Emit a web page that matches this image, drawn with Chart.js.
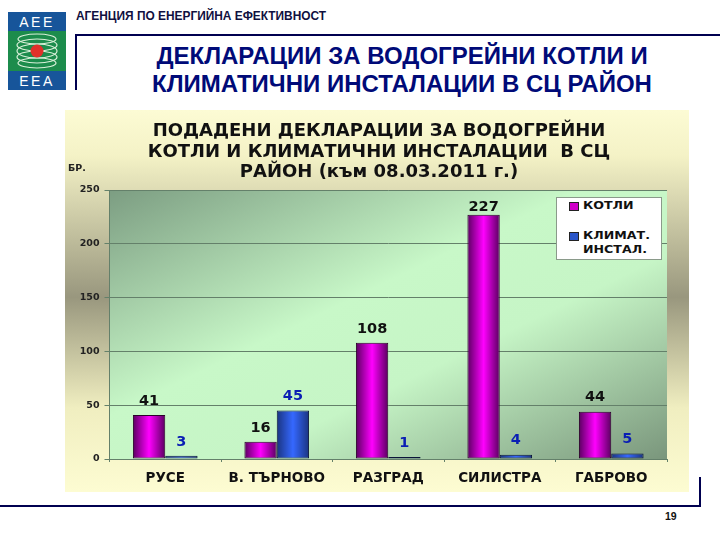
<!DOCTYPE html>
<html>
<head>
<meta charset="utf-8">
<script src="https://cdn.jsdelivr.net/npm/chart.js@4"></script>
<style>
  html, body { margin: 0; padding: 0; background: #fff; }
  body { width: 720px; height: 540px; position: relative; overflow: hidden; font-family: "Liberation Sans", Arial, sans-serif; }
  .abs { position: absolute; }
  #agency { left: 76px; top: 9px; font-size: 11.9px; font-weight: bold; color: #101040; white-space: nowrap; }
  #heading { left: 76px; width: 652px; top: 42px; text-align: center; font-size: 24px; line-height: 28px; font-weight: bold; color: #000a78; white-space: nowrap; }
  .navy { background: #000050; }
  #panel { left: 65px; top: 110px; width: 624px; height: 382px; }
  #legend { left: 556px; top: 197px; width: 104px; height: 61px; background: #fff; border: 1px solid #8a9a8a; font: bold 10px "DejaVu Sans", sans-serif; color: #111; }
  #legend div { position: absolute; white-space: nowrap; transform: scaleX(1.26); transform-origin: left; }
  #legend i { position: absolute; width: 8px; height: 7px; border: 1px solid #222; }
  #page { left: 665px; top: 510px; font-size: 10.5px; font-weight: bold; color: #111; }
</style>
</head>
<body>

<svg class="abs" style="left:8px;top:12px" width="58" height="78" viewBox="0 0 58 78">
  <rect width="58" height="78" fill="#17559a"/>
  <rect y="19" width="58" height="40" fill="#1c8c4c"/>
  <g fill="none" stroke="#d8efd8" stroke-width="1.2">
    <ellipse cx="29" cy="27" rx="19" ry="5"/>
    <ellipse cx="29" cy="33" rx="20" ry="6"/>
    <ellipse cx="29" cy="39" rx="20" ry="7"/>
    <ellipse cx="29" cy="45" rx="20" ry="6"/>
    <ellipse cx="29" cy="51" rx="19" ry="5"/>
  </g>
  <circle cx="29" cy="39" r="6.5" fill="#e0302a"/>
  <text x="29" y="15" text-anchor="middle" fill="#fff" font-family="Liberation Sans" font-size="14" letter-spacing="2.5">AEE</text>
  <text x="29" y="74" text-anchor="middle" fill="#fff" font-family="Liberation Sans" font-size="14" letter-spacing="2.5">EEA</text>
</svg>

<div class="abs" id="agency">АГЕНЦИЯ ПО ЕНЕРГИЙНА ЕФЕКТИВНОСТ</div>
<div class="abs navy" style="left:75px;top:34px;width:645px;height:2px"></div>
<div class="abs navy" style="left:75px;top:34px;width:2px;height:56px"></div>
<div class="abs" id="heading">ДЕКЛАРАЦИИ ЗА ВОДОГРЕЙНИ КОТЛИ И<br>КЛИМАТИЧНИ ИНСТАЛАЦИИ В СЦ РАЙОН</div>

<div class="abs" id="panel"><canvas id="chart"></canvas></div>

<div class="abs" id="legend">
  <i style="left:12px;top:4px;background:#d000c8"></i><div style="left:26px;top:2px">КОТЛИ</div>
  <i style="left:12px;top:34px;background:#2a55c8"></i><div style="left:26px;top:32px">КЛИМАТ.</div>
  <div style="left:26px;top:46px">ИНСТАЛ.</div>
</div>

<div class="abs navy" style="left:0;top:505px;width:701px;height:2px"></div>
<div class="abs navy" style="left:699px;top:477px;width:2px;height:30px"></div>
<div class="abs" id="page">19</div>

<script>
const categories = ['РУСЕ', 'В. ТЪРНОВО', 'РАЗГРАД', 'СИЛИСТРА', 'ГАБРОВО'];
const boilers = [41, 16, 108, 227, 44];
const climate = [3, 45, 1, 4, 5];
const titleLines = ['ПОДАДЕНИ ДЕКЛАРАЦИИ ЗА ВОДОГРЕЙНИ', 'КОТЛИ И КЛИМАТИЧНИ ИНСТАЛАЦИИ  В СЦ', 'РАЙОН (към 08.03.2011 г.)'];

const CAT_PCT = 0.58;

// cylinder look: dark at the edges, bright in the middle of each bar
function barGradient(ctx, side, edge, mid) {
    const chart = ctx.chart;
    const x = chart.scales.x;
    if (!x || !x.width) return edge; // scale not laid out yet
    const w = (x.width / categories.length) * CAT_PCT / 2;
    const c = x.getPixelForValue(ctx.dataIndex);
    if (!Number.isFinite(c)) return edge;
    const left = side < 0 ? c - w : c;
    const g = chart.ctx.createLinearGradient(left, 0, left + w, 0);
    g.addColorStop(0, edge);
    g.addColorStop(0.5, mid);
    g.addColorStop(1, edge);
    return g;
}

// panel and plot backgrounds
const backdrop = {
    id: 'backdrop',
    // title is centred on the whole panel, not on the padded box
    afterLayout(chart) {
        chart.titleBlock.left += 26;
    },
    beforeDraw(chart) {
        const { ctx, width, height, chartArea: a } = chart;
        let g = ctx.createLinearGradient(0, 0, 0, height);
        g.addColorStop(0, '#fcfbd4');
        g.addColorStop(0.12, '#f4f2c6');
        g.addColorStop(0.49, '#99977e');
        g.addColorStop(0.78, '#f0eec0');
        g.addColorStop(1, '#fdfcd2');
        ctx.fillStyle = g;
        ctx.fillRect(0, 0, width, height);

        // light band runs from the bottom left corner to the top right one
        const W = a.right - a.left, H = a.bottom - a.top;
        const s = W * H / (W * W + H * H);
        const cx = a.left + W / 2, cy = a.top + H / 2;
        g = ctx.createLinearGradient(cx - H * s, cy - W * s, cx + H * s, cy + W * s);
        g.addColorStop(0, '#7c9d82');
        g.addColorStop(0.42, '#c8f8c8');
        g.addColorStop(0.62, '#c6f5c6');
        g.addColorStop(1, '#7a967c');
        ctx.fillStyle = g;
        ctx.fillRect(a.left, a.top, W, H);
    }
};

// value labels over the bars, and the "БР." unit
const valueLabels = {
    id: 'valueLabels',
    afterDatasetsDraw(chart) {
        const ctx = chart.ctx;
        ctx.save();
        ctx.textAlign = 'center';
        ctx.textBaseline = 'middle';
        ctx.font = 'bold 14.5px "DejaVu Sans"';
        chart.data.datasets.forEach((ds, i) => {
            ctx.fillStyle = i === 0 ? '#111' : '#0a1eb4';
            chart.getDatasetMeta(i).data.forEach((bar, j) => {
                // the tallest one sits closer to its bar in the original
                const lift = ds.data[j] > 200 ? 8 : 14;
                ctx.fillText(ds.data[j], bar.x, bar.y - lift);
            });
        });
        ctx.font = 'bold 9.5px "DejaVu Sans"';
        ctx.fillStyle = '#222';
        ctx.textAlign = 'left';
        ctx.fillText('БР.', 3, 59);
        ctx.restore();
    }
};

new Chart(document.getElementById('chart'), {
    type: 'bar',
    data: {
        labels: categories,
        datasets: [
            {
                label: 'КОТЛИ',
                data: boilers,
                backgroundColor: ctx => barGradient(ctx, -1, '#5a0060', '#ff00ff'),
                borderColor: '#2a002a',
                borderWidth: 1,
                borderSkipped: false
            },
            {
                label: 'КЛИМАТ. ИНСТАЛ.',
                data: climate,
                backgroundColor: ctx => barGradient(ctx, 1, '#1a3480', '#3568ff'),
                borderColor: '#0a1438',
                borderWidth: 1,
                borderSkipped: false,
                minBarLength: 2 // so the bar for 1 still shows as a dark line
            }
        ]
    },
    options: {
        responsive: true,
        maintainAspectRatio: false,
        animation: false,
        layout: { padding: { right: 22 } },
        datasets: { bar: { categoryPercentage: CAT_PCT, barPercentage: 1 } },
        plugins: {
            legend: { display: false },
            tooltip: { enabled: false },
            title: {
                display: true,
                text: titleLines,
                color: '#111',
                font: { family: '"DejaVu Sans"', weight: 'bold', size: 18, lineHeight: 1.15 },
                padding: { top: 11, bottom: 6.9 }
            }
        },
        scales: {
            x: {
                afterFit(scale) { scale.height = 33; },
                border: { color: '#64806a' },
                grid: { drawOnChartArea: false, color: '#64806a', tickLength: 3 },
                ticks: { color: '#111', padding: 8, maxRotation: 0, font: { family: '"DejaVu Sans"', weight: 'bold', size: 13.5 } }
            },
            y: {
                min: 0,
                max: 250,
                afterFit(scale) { scale.width = 44.5; },
                border: { color: '#64806a' },
                grid: { color: '#64806a', tickLength: 5 },
                ticks: { stepSize: 50, color: '#222', padding: 5, font: { family: '"DejaVu Sans"', weight: 'bold', size: 9.5 } }
            }
        }
    },
    plugins: [backdrop, valueLabels]
});
</script>
</body>
</html>
